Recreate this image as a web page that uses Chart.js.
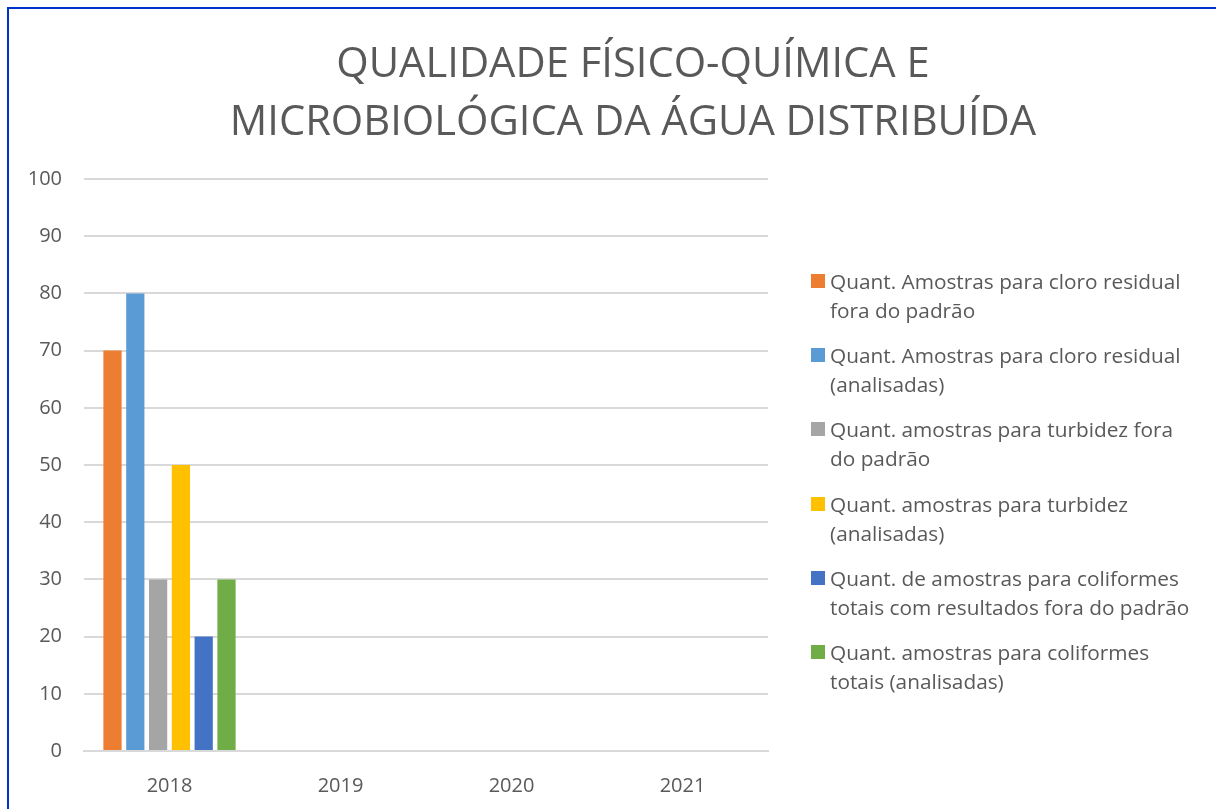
<!DOCTYPE html>
<html>
<head>
<meta charset="utf-8">
<script src="https://cdn.jsdelivr.net/npm/chart.js@4"></script>
<style>
    body { margin: 0; background: #fff; font-family: "Open Sans", sans-serif; }
    #frame {
        position: absolute; left: 7px; top: 7px; width: 1216px; height: 809px;
        border-left: 2px solid #0033CC; border-top: 2px solid #0033CC;
    }
    #wrap { position: absolute; left: 0; top: 0; width: 1216px; height: 809px; }
    #title {
        position: absolute; left: 133px; width: 1000px; top: 32px;
        text-align: center; color: #595959; font-size: 41.7px; line-height: 58px;
    }
    #legend { position: absolute; left: 811px; top: 267px; width: 405px; color: #595959; font-size: 20.8px; white-space: nowrap; }
    #legend .item { position: relative; padding-left: 19px; line-height: 29px; height: 58px; margin-bottom: 16.2px; }
    #legend .box { position: absolute; left: 0; top: 7px; width: 14px; height: 14px; }
</style>
</head>
<body>
<div id="frame"></div>
<div id="wrap"><canvas id="chart" width="1216" height="809"></canvas></div>
<div id="title">QUALIDADE FÍSICO-QUÍMICA E<br>MICROBIOLÓGICA DA ÁGUA DISTRIBUÍDA</div>
<div id="legend"></div>
<script>
// Categories and series
const years = ['2018', '2019', '2020', '2021'];
const cloroFora = [70, 0, 0, 0];
const cloroAnalisadas = [80, 0, 0, 0];
const turbidezFora = [30, 0, 0, 0];
const turbidezAnalisadas = [50, 0, 0, 0];
const coliformesFora = [20, 0, 0, 0];
const coliformesAnalisadas = [30, 0, 0, 0];
const yTicks = [0, 10, 20, 30, 40, 50, 60, 70, 80, 90, 100];

const seriesLabels = [
    ['Quant. Amostras para cloro residual', 'fora do padrão'],
    ['Quant. Amostras para cloro residual', '(analisadas)'],
    ['Quant. amostras para turbidez fora', 'do padrão'],
    ['Quant. amostras para turbidez', '(analisadas)'],
    ['Quant. de amostras para coliformes', 'totais com resultados fora do padrão'],
    ['Quant. amostras para coliformes', 'totais (analisadas)']
];
const seriesData = [cloroFora, cloroAnalisadas, turbidezFora, turbidezAnalisadas, coliformesFora, coliformesAnalisadas];
const seriesColors = ['#ED7D31', '#5B9BD5', '#A5A5A5', '#FFC000', '#4472C4', '#70AD47'];

const textColor = '#595959';
const fontFamily = '"Open Sans", sans-serif';

// HTML legend with wrapped labels
const htmlLegend = {
    id: 'htmlLegend',
    afterUpdate(chart) {
        const el = document.getElementById('legend');
        el.innerHTML = '';
        chart.data.datasets.forEach((ds, i) => {
            const item = document.createElement('div');
            item.className = 'item';
            const box = document.createElement('span');
            box.className = 'box';
            box.style.background = ds.backgroundColor;
            item.appendChild(box);
            seriesLabels[i].forEach((line, j) => {
                if (j > 0) item.appendChild(document.createElement('br'));
                item.appendChild(document.createTextNode(line));
            });
            el.appendChild(item);
        });
    }
};

new Chart(document.getElementById('chart').getContext('2d'), {
    type: 'bar',
    data: {
        labels: years,
        datasets: seriesData.map((d, i) => ({
            label: seriesLabels[i].join(' '),
            data: d,
            backgroundColor: seriesColors[i],
            borderWidth: 0,
            barPercentage: 0.8,
            categoryPercentage: 0.8
        }))
    },
    options: {
        responsive: false,
        animation: false,
        layout: { padding: { left: 9, right: 448, top: 179, bottom: 8 } },
        plugins: {
            legend: { display: false },
            title: { display: false },
            tooltip: { enabled: false }
        },
        scales: {
            x: {
                grid: { display: false },
                border: { color: '#D9D9D9', width: 2 },
                ticks: { color: textColor, font: { family: fontFamily, size: 20 }, padding: 15 },
                afterFit(scale) { scale.height = 50; }
            },
            y: {
                min: 0,
                max: 100,
                afterBuildTicks(scale) { scale.ticks = yTicks.map(v => ({ value: v })); },
                grid: { color: '#D9D9D9', lineWidth: 2, drawTicks: false },
                border: { display: false },
                ticks: { color: textColor, font: { family: fontFamily, size: 20 }, padding: 22 },
                afterFit(scale) { scale.width = 75; }
            }
        }
    },
    plugins: [htmlLegend]
});
</script>
</body>
</html>
